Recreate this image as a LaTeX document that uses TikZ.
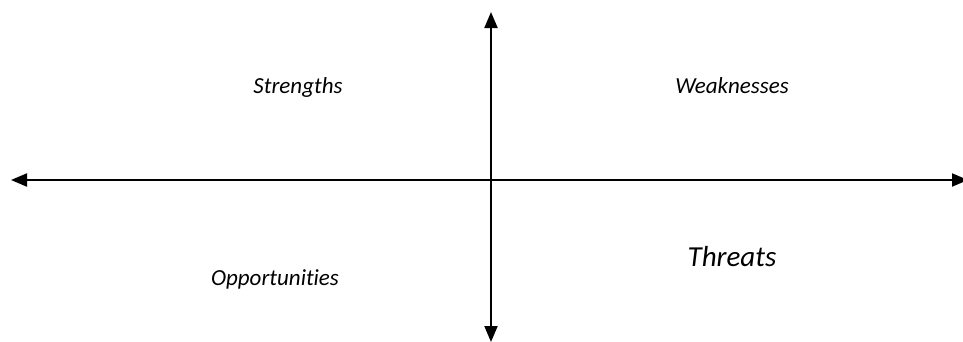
\documentclass[tikz,border=0pt]{standalone}
\usepackage{fontspec}
\setmainfont[Ligatures=NoCommon]{Carlito}
\usetikzlibrary{arrows.meta}
\tikzset{
  axis/.style={line width=2pt, {Triangle[length=16pt,width=13pt]}-{Triangle[length=16pt,width=13pt]}},
  lbl/.style={anchor=base, inner sep=0pt, font=\fontsize{23}{28}\selectfont\itshape},
  biglbl/.style={anchor=base, inner sep=0pt, font=\fontsize{29}{34}\selectfont\itshape}
}
\begin{document}
\begin{tikzpicture}[x=1pt,y=-1pt]
\useasboundingbox (0,0) rectangle (963,341);
\coordinate (L) at (11,180);
\coordinate (R) at (968,180);
\coordinate (T) at (491,12);
\coordinate (B) at (491,342);
\draw[axis] (L) -- (R);
\draw[axis] (T) -- (B);
\node[lbl] (s) at (298,93) {Strengths};
\node[lbl] (w) at (732,93) {Weaknesses};
\node[lbl] (o) at (275,285) {Opportunities};
\node[biglbl] (t) at (732,266) {Threats};
\end{tikzpicture}
\end{document}
